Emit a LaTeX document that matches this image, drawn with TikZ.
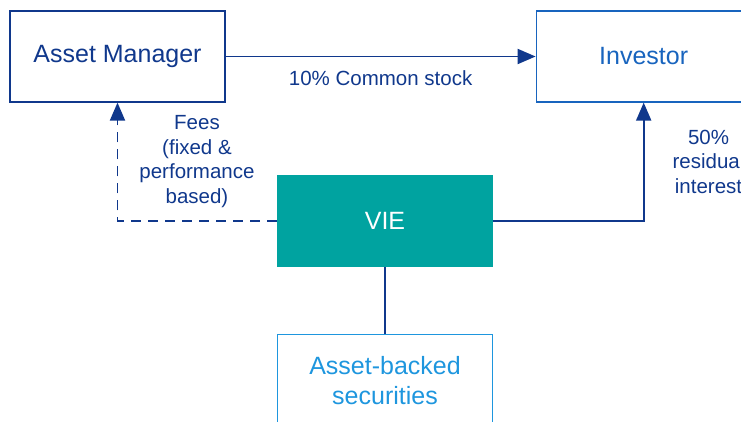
\documentclass[tikz,border=0pt]{standalone}
\usepackage{fontspec}
\setmainfont{Liberation Sans}
\usetikzlibrary{arrows.meta,positioning}
\definecolor{navy}{RGB}{16,56,140}
\definecolor{midblue}{RGB}{24,100,190}
\definecolor{skyblue}{RGB}{30,150,222}
\definecolor{vieteal}{RGB}{0,163,160}
\begin{document}
\begin{tikzpicture}[
  x=1pt, y=-1pt,
  node distance=67pt and 310pt,
  box/.style={rectangle, draw, line width=1.2pt, minimum width=215pt, minimum height=91pt, align=center, font=\fontsize{25}{30}\selectfont},
  mgr/.style={box, draw=navy, text=navy},
  inv/.style={box, draw=midblue, text=midblue},
  vie/.style={box, draw=vieteal, fill=vieteal, text=white},
  sec/.style={box, draw=skyblue, text=skyblue},
  lbl/.style={inner sep=0pt, align=center, text=navy, font=\fontsize{20.5}{24.5}\selectfont},
  arr/.style={-{Triangle[length=18pt,width=15pt]}, line width=1.9pt, draw=navy}
]
\useasboundingbox (0,0) rectangle (741,422);
\clip (0,0) rectangle (741,422);

% top row
\node[mgr] (manager) at (117.5,56.5) {Asset Manager};
\node[inv, right=of manager] (investor) {Investor};

% vehicle and its assets
\node[vie] (vie) at (385,221) {VIE};
\node[sec, below=of vie] (abs) {Asset-backed\\securities};

\draw[arr] (manager) -- node[lbl, yshift=-22pt] {10\% Common stock} (investor);
\draw[arr, dash pattern=on 10pt off 7pt] (vie.west) -| node[lbl, pos=0.75, right=21pt] {Fees\\(fixed \&\\performance\\based)} (manager.south);
\draw[arr] (vie.east) -| node[lbl, pos=0.75, right=28pt] {50\%\\residual\\interest} (investor.south);
\draw[navy, line width=1.3pt] (vie) -- (abs);
\end{tikzpicture}
\end{document}
